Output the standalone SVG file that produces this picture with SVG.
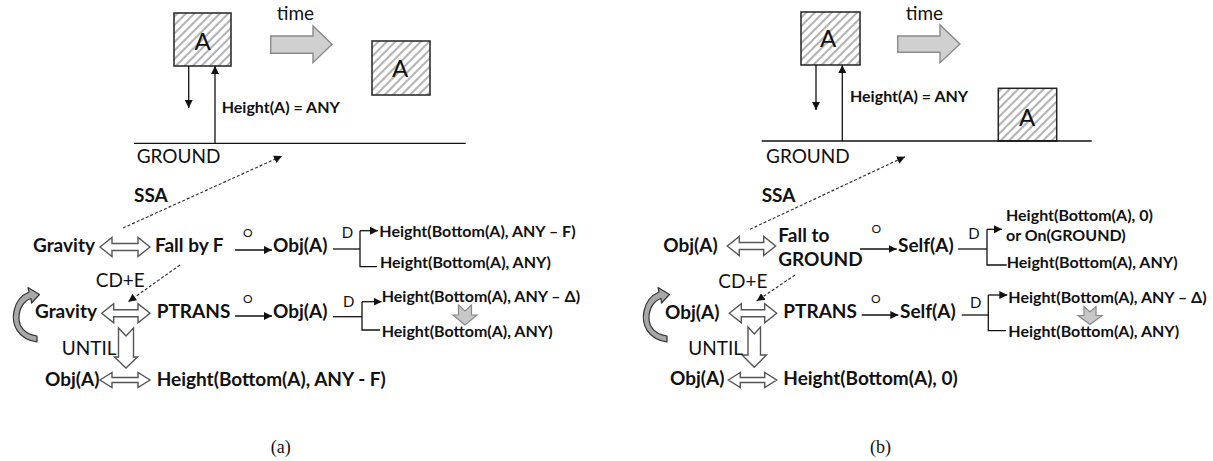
<svg xmlns="http://www.w3.org/2000/svg" width="1213" height="461" viewBox="0 0 1213 461">
<style>
text{font-family:Lato,"Open Sans",sans-serif;fill:#111}
.b{font-weight:bold;font-size:19px}
.s{font-weight:bold;font-size:16px}
.r{font-size:19px}
.d{font-size:15px}
.o{font-size:12px}
.big{font-size:24px}
.cap{font-family:"Liberation Serif",serif;font-size:18px}
.ln{stroke:#111;stroke-width:1.3;fill:none}
.ar{stroke:#111;stroke-width:1.3;fill:none;marker-end:url(#ah)}
.da{stroke:#333;stroke-width:1.2;fill:none;stroke-dasharray:3 2;marker-end:url(#ah)}
.box{fill:url(#hatch);stroke:#222;stroke-width:1.5}
.dbl{fill:#fff;stroke:#555;stroke-width:1.4;stroke-linejoin:miter}
.time{fill:#d0d0d0;stroke:#8a8a8a;stroke-width:1.4}
.gray{fill:#c8c8c8;stroke:#888;stroke-width:1.2}
.cur{fill:#a8a8a8;stroke:#333;stroke-width:1.2;stroke-linejoin:round}
</style>
<defs>
<pattern id="hatch" width="6" height="6" patternUnits="userSpaceOnUse" patternTransform="rotate(45)">
<rect width="6" height="6" fill="#fff"/>
<line x1="3" y1="0" x2="3" y2="6" stroke="#9a9a9a" stroke-width="1.5"/>
</pattern>
<marker id="ah" markerWidth="8" markerHeight="8" refX="8" refY="4" orient="auto" markerUnits="userSpaceOnUse">
<path d="M0,0 L8,4 L0,8 z" fill="#111"/>
</marker>
</defs>

<!-- ===== Panel (a) ===== -->
<g id="a-scene">
<rect class="box" x="174" y="13" width="57" height="53"/>
<text class="big" x="202.5" y="50" text-anchor="middle">A</text>
<rect class="box" x="372" y="41" width="58" height="54"/>
<text class="big" x="400" y="76.7" text-anchor="middle">A</text>
<path class="time" d="M270.7,36 H313 V26 L332,44.3 L313,62.7 V53.3 H270.7 Z"/>
<text class="r" x="276.7" y="20">time</text>
<line class="ln" x1="134" y1="143.3" x2="465.7" y2="143.3"/>
<text class="r" x="136.7" y="163">GROUND</text>
<text class="s" x="221.7" y="113">Height(A) = ANY</text>
</g>
<g id="a-gravity1"><text class="b" x="33" y="251.7">Gravity</text></g>
<g id="a-fall"><text class="b" x="155" y="251.7">Fall by F</text></g>
<g id="a-obj1"><text class="b" x="273" y="251.7">Obj(A)</text></g>
<g id="a-h1"><text class="s" x="379.3" y="236.7">Height(Bottom(A), ANY – F)</text></g>
<g id="a-h2"><text class="s" x="380" y="267.7">Height(Bottom(A), ANY)</text></g>
<g id="a-gravity2"><text class="b" x="35" y="318.3">Gravity</text></g>
<g id="a-ptrans"><text class="b" x="156.7" y="318.3">PTRANS</text></g>
<g id="a-obj2"><text class="b" x="273" y="318.3">Obj(A)</text></g>
<g id="a-h3"><text class="s" x="381.7" y="302">Height(Bottom(A), ANY – Δ)</text></g>
<g id="a-h4"><text class="s" x="381.7" y="336.7">Height(Bottom(A), ANY)</text></g>
<g id="a-obj3"><text class="b" x="45" y="386">Obj(A)</text></g>
<g id="a-h5"><text class="b" x="156.7" y="386">Height(Bottom(A), ANY - F)</text></g>
<text class="cap" x="270.7" y="453">(a)</text>

<!-- ===== Panel (b) ===== -->
<g id="b-scene">
<rect class="box" x="801" y="12" width="59" height="53"/>
<text class="big" x="828" y="47.3" text-anchor="middle">A</text>
<rect class="box" x="998.3" y="88.3" width="58.4" height="52.7"/>
<text class="big" x="1027" y="125.7" text-anchor="middle">A</text>
<path class="time" d="M897.7,36 H940 V25 L960,44 L940,62.7 V52.3 H897.7 Z"/>
<text class="r" x="905.7" y="20">time</text>
<line class="ln" x1="761.7" y1="141" x2="1091.7" y2="141"/>
<text class="r" x="766" y="163.3">GROUND</text>
<text class="s" x="850" y="101.5">Height(A) = ANY</text>
</g>
<g id="b-obj1"><text class="b" x="663.3" y="251.7">Obj(A)</text></g>
<g id="b-fall"><text class="b" x="778.3" y="241.7">Fall to</text><text class="b" x="778.3" y="266">GROUND</text></g>
<g id="b-self1"><text class="b" x="898" y="251.7">Self(A)</text></g>
<g id="b-h1"><text class="s" x="1006" y="220.7">Height(Bottom(A), 0)</text><text class="s" x="1006" y="240.7">or On(GROUND)</text></g>
<g id="b-h2"><text class="s" x="1006.7" y="267.7">Height(Bottom(A), ANY)</text></g>
<g id="b-obj2"><text class="b" x="665" y="319">Obj(A)</text></g>
<g id="b-ptrans"><text class="b" x="783.3" y="318.3">PTRANS</text></g>
<g id="b-self2"><text class="b" x="900" y="318.3">Self(A)</text></g>
<g id="b-h3"><text class="s" x="1008.3" y="303.3">Height(Bottom(A), ANY – Δ)</text></g>
<g id="b-h4"><text class="s" x="1008.3" y="336.7">Height(Bottom(A), ANY)</text></g>
<g id="b-obj3"><text class="b" x="670" y="385">Obj(A)</text></g>
<g id="b-h5"><text class="b" x="783.3" y="385">Height(Bottom(A), 0)</text></g>
<text class="cap" x="870" y="453">(b)</text>

<!-- ===== Connectors ===== -->
<g id="connectors">
<!-- panel a -->
<line class="ar" x1="188.7" y1="66" x2="188.7" y2="108"/>
<line class="ar" x1="215" y1="143.3" x2="215" y2="66"/>
<line class="da" x1="123" y1="228" x2="282" y2="156"/>
<text class="b" x="134" y="201.7">SSA</text>
<line class="da" x1="180" y1="265" x2="128.3" y2="301.7"/>
<text class="r" x="95.7" y="286.7">CD+E</text>
<path class="dbl" d="M100,247 L112,237.5 V243.5 H138 V237.5 L150,247 L138,256.5 V250.5 H112 V256.5 Z"/>
<path class="dbl" d="M101.7,313.3 L113.7,303.8 V309.8 H138 V303.8 L150,313.3 L138,322.8 V316.8 H113.7 V322.8 Z"/>
<path class="dbl" d="M100,380 L112,372.5 V377.5 H138 V372.5 L150,380 L138,387.5 V382.5 H112 V387.5 Z"/>
<path class="dbl" d="M118.5,328 L126,336 L133.5,328 V357 H137.5 L126,368 L114.5,357 H118.5 Z"/>
<text class="r" x="61.7" y="355">UNTIL</text>
<line class="ar" x1="235" y1="250" x2="272" y2="250"/>
<text class="o" x="243" y="236.7">O</text>
<line class="ar" x1="235" y1="316" x2="272" y2="316"/>
<text class="o" x="243" y="303.3">O</text>
<polyline class="ln" points="333,249 360,249"/>
<polyline class="ln" points="377,266.7 360,266.7 360,230.7"/>
<line class="ar" x1="360" y1="230.7" x2="378" y2="230.7"/>
<text class="d" x="341.7" y="238">D</text>
<polyline class="ln" points="333,316.7 362,316.7"/>
<polyline class="ln" points="380,330 362,330 362,301.7"/>
<line class="ar" x1="362" y1="301.7" x2="381.7" y2="301.7"/>
<text class="d" x="343" y="306.7">D</text>
<path class="gray" d="M458.5,305 L465,311 L471.5,305 V315 H477 L465,325 L453,315 H458.5 Z"/>
<path class="cur" d="M37,342 C18,339 11,325 14,311 C16,301 22,295 29,292 L28,287.5 L39.5,294.5 L31.5,303 L31,298.5 C24,301 19,308 19,318 C19,328 26,334.5 37,336 Z"/>
<!-- panel b -->
<line class="ar" x1="816" y1="65" x2="816" y2="110"/>
<line class="ar" x1="842.3" y1="141" x2="842.3" y2="65"/>
<line class="da" x1="750" y1="229.3" x2="905" y2="156.7"/>
<text class="b" x="761.7" y="201.7">SSA</text>
<line class="da" x1="795" y1="275" x2="756.7" y2="301"/>
<text class="r" x="718.3" y="288.3">CD+E</text>
<path class="dbl" d="M727.3,246 L739.3,236.5 V242.5 H763.7 V236.5 L775.7,246 L763.7,255.5 V249.5 H739.3 V255.5 Z"/>
<path class="dbl" d="M729.3,313.3 L741.3,303.8 V309.8 H764.7 V303.8 L776.7,313.3 L764.7,322.8 V316.8 H741.3 V322.8 Z"/>
<path class="dbl" d="M728.3,380 L740.3,372.5 V377.5 H764.7 V372.5 L776.7,380 L764.7,387.5 V382.5 H740.3 V387.5 Z"/>
<path class="dbl" d="M748,327 L754.3,334 L760.5,327 V355 H766.5 L754.3,367.3 L742,355 H748 Z"/>
<text class="r" x="688.3" y="355">UNTIL</text>
<line class="ar" x1="860" y1="249" x2="896.7" y2="249"/>
<text class="o" x="871.5" y="233.3">O</text>
<line class="ar" x1="861.7" y1="315" x2="898.3" y2="315"/>
<text class="o" x="871" y="303.3">O</text>
<polyline class="ln" points="958,249 987,249"/>
<polyline class="ln" points="1006.7,265 987,265 987,229.3"/>
<line class="ar" x1="987" y1="229.3" x2="1002" y2="229.3"/>
<text class="d" x="968.3" y="239">D</text>
<polyline class="ln" points="961.7,315 988.3,315"/>
<polyline class="ln" points="1006,330.7 988.3,330.7 988.3,295"/>
<line class="ar" x1="988.3" y1="295" x2="1007.3" y2="295"/>
<text class="d" x="970" y="308.3">D</text>
<path class="gray" d="M1084,306.5 L1090,312 L1096,306.5 V315.5 H1102 L1090,324.5 L1078,315.5 H1084 Z"/>
<path class="cur" d="M667,342 C648,339 641,325 644,311 C646,301 652,295 659,292 L658,287.5 L669.5,294.5 L661.5,303 L661,298.5 C654,301 649,308 649,318 C649,328 656,334.5 667,336 Z"/>
</g>
</svg>
